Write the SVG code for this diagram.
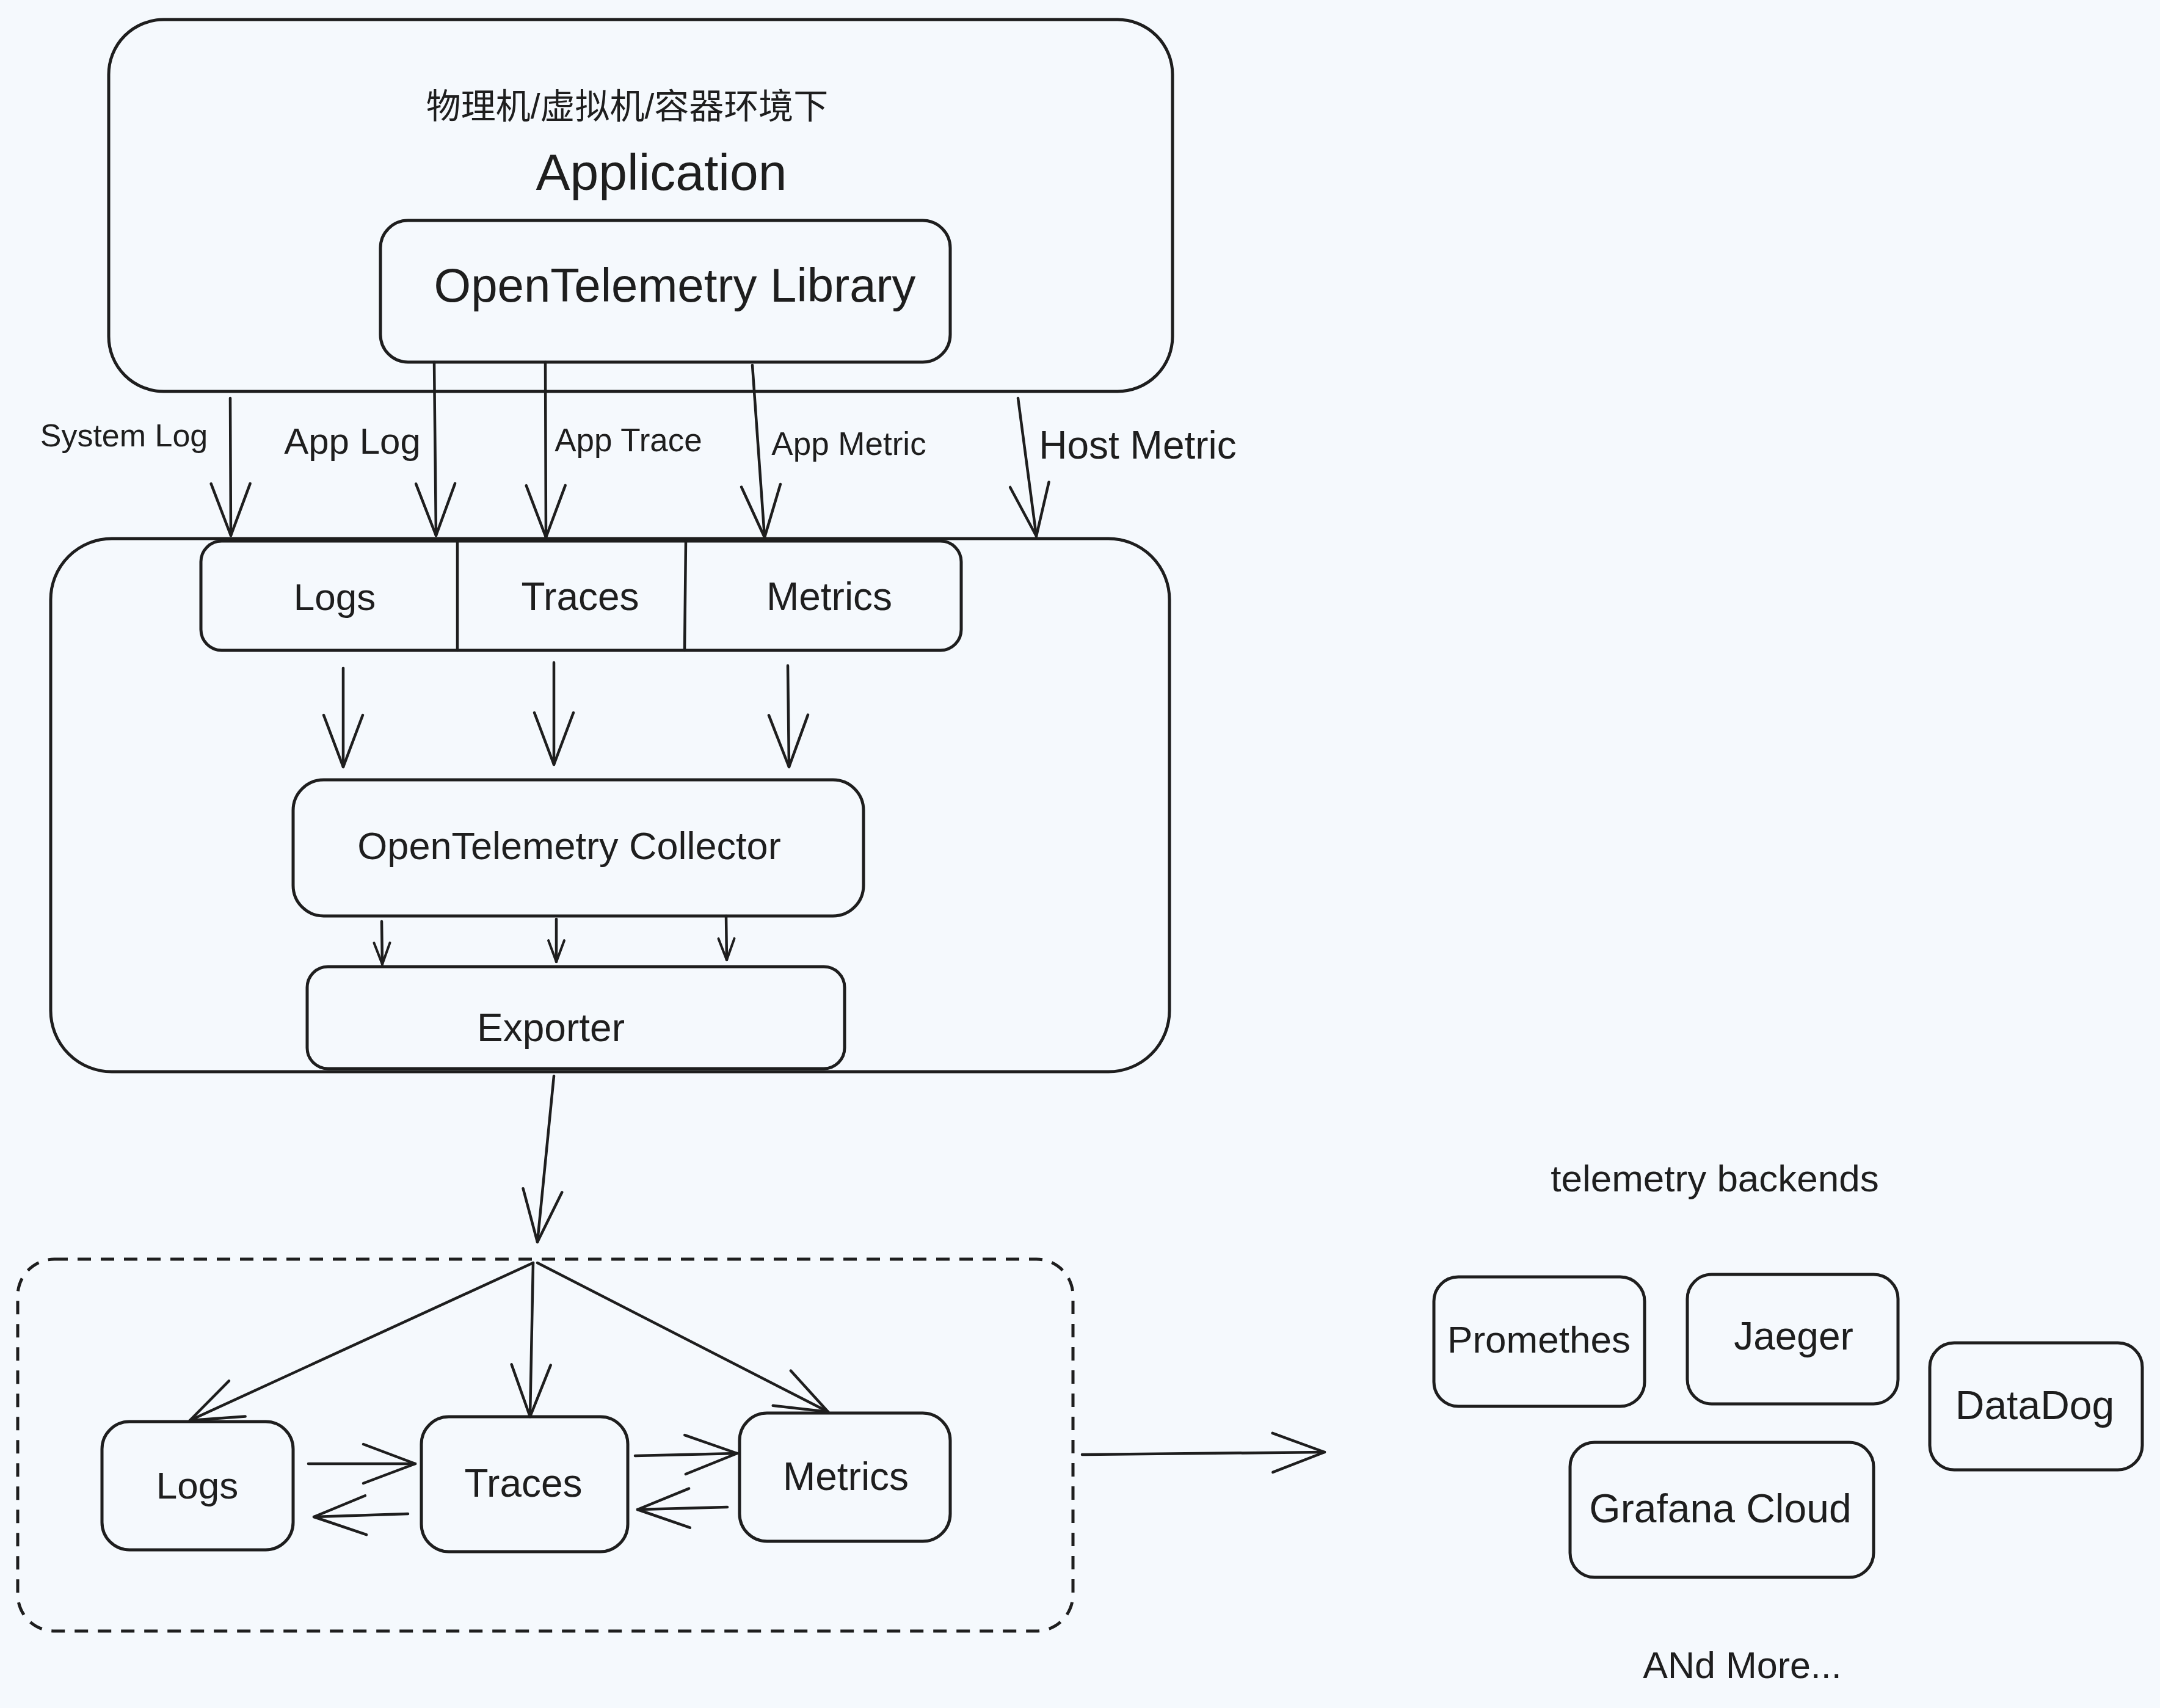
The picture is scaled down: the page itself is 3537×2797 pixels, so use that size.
<svg xmlns="http://www.w3.org/2000/svg" width="3537" height="2797" viewBox="0 0 3537 2797">
<defs>
<style>
.box{fill:none;stroke:#1e1e1e;stroke-width:5;}
.dash{fill:none;stroke:#1e1e1e;stroke-width:5;stroke-dasharray:22 16;}
.ln{fill:none;stroke:#1e1e1e;stroke-width:4.5;stroke-linecap:round;}
.t{font-family:"Liberation Sans","Noto Sans CJK SC",sans-serif;fill:#1e1e1e;text-anchor:middle;dominant-baseline:central;}
</style>
<marker id="ah" markerUnits="userSpaceOnUse" markerWidth="90" markerHeight="70" refX="85" refY="32" orient="auto" overflow="visible">
<path d="M0,0 L85,32 L0,64" fill="none" stroke="#1e1e1e" stroke-width="4.5" stroke-linecap="round" stroke-linejoin="round"/>
</marker>
<marker id="as" markerUnits="userSpaceOnUse" markerWidth="40" markerHeight="30" refX="35" refY="13" orient="auto" overflow="visible">
<path d="M0,0 L35,13 L0,26" fill="none" stroke="#1e1e1e" stroke-width="4" stroke-linecap="round" stroke-linejoin="round"/>
</marker>
</defs>
<rect x="0" y="0" width="3537" height="2797" fill="#f5f9fd"/>

<g id="application">
<rect class="box" x="178" y="32" width="1742" height="609" rx="90"/>
<text class="t" x="1027" y="174" font-size="57">物理机/虚拟机/容器环境下</text>
<text class="t" x="1083" y="282" font-size="84">Application</text>
</g>
<g id="otel-library">
<rect class="box" x="623" y="361" width="933" height="232" rx="45"/>
<text class="t" x="1105" y="467" font-size="78">OpenTelemetry Library</text>
</g>

<g id="agent">
<rect class="box" x="83" y="882" width="1832" height="873" rx="100"/>
</g>
<g id="signals-bar">
<rect class="box" x="329" y="886" width="1245" height="179" rx="34"/>
<path class="ln" d="M749,886 L749,1065 M1123,886 L1121,1065"/>
<text class="t" x="548" y="977" font-size="62">Logs</text>
<text class="t" x="950" y="977" font-size="64">Traces</text>
<text class="t" x="1358" y="977" font-size="64">Metrics</text>
</g>
<g id="collector">
<rect class="box" x="480" y="1277" width="934" height="223" rx="50"/>
<text class="t" x="932" y="1385" font-size="63">OpenTelemetry Collector</text>
</g>
<g id="exporter">
<rect class="box" x="503" y="1583" width="880" height="167" rx="34"/>
<text class="t" x="902" y="1683" font-size="64">Exporter</text>
</g>

<g id="pipeline">
<rect class="dash" x="29" y="2062" width="1728" height="609" rx="60"/>
</g>
<g id="logs">
<rect class="box" x="167" y="2328" width="313" height="210" rx="45"/>
<text class="t" x="323" y="2432" font-size="62">Logs</text>
</g>
<g id="traces">
<rect class="box" x="690" y="2320" width="338" height="221" rx="45"/>
<text class="t" x="857" y="2429" font-size="64">Traces</text>
</g>
<g id="metrics">
<rect class="box" x="1211" y="2314" width="345" height="210" rx="45"/>
<text class="t" x="1385" y="2418" font-size="64">Metrics</text>
</g>

<g id="backends">
<text class="t" x="2808" y="1929" font-size="62">telemetry backends</text>
</g>
<g id="prometheus">
<rect class="box" x="2348" y="2091" width="345" height="212" rx="40"/>
<text class="t" x="2520" y="2193" font-size="62">Promethes</text>
</g>
<g id="jaeger">
<rect class="box" x="2763" y="2087" width="345" height="212" rx="40"/>
<text class="t" x="2937" y="2188" font-size="64">Jaeger</text>
</g>
<g id="datadog">
<rect class="box" x="3160" y="2199" width="348" height="208" rx="40"/>
<text class="t" x="3332" y="2301" font-size="66">DataDog</text>
</g>
<g id="grafana">
<rect class="box" x="2571" y="2362" width="497" height="221" rx="40"/>
<text class="t" x="2817" y="2470" font-size="66">Grafana Cloud</text>
</g>
<g id="more">
<text class="t" x="2853" y="2727" font-size="61">ANd More...</text>
</g>

<g id="connectors">
<path class="ln" marker-end="url(#ah)" d="M377,652 L378,877"/>
<path class="ln" marker-end="url(#ah)" d="M711,593 L714,877"/>
<path class="ln" marker-end="url(#ah)" d="M893,593 L894,880"/>
<path class="ln" marker-end="url(#ah)" d="M1232,598 L1252,880"/>
<path class="ln" marker-end="url(#ah)" d="M1667,652 L1697,878"/>
<text class="t" x="203" y="713" font-size="52">System Log</text>
<text class="t" x="577" y="722" font-size="60">App Log</text>
<text class="t" x="1029" y="720" font-size="53">App Trace</text>
<text class="t" x="1390" y="726" font-size="53">App Metric</text>
<text class="t" x="1863" y="729" font-size="64">Host Metric</text>

<path class="ln" marker-end="url(#ah)" d="M562,1094 L562,1256"/>
<path class="ln" marker-end="url(#ah)" d="M907,1085 L907,1252"/>
<path class="ln" marker-end="url(#ah)" d="M1290,1090 L1292,1256"/>

<path class="ln" marker-end="url(#as)" d="M625,1509 L626,1579"/>
<path class="ln" marker-end="url(#as)" d="M911,1505 L911,1575"/>
<path class="ln" marker-end="url(#as)" d="M1189,1500 L1190,1572"/>

<path class="ln" marker-end="url(#ah)" d="M907,1762 L880,2034"/>

<path class="ln" marker-end="url(#ah)" d="M873,2068 L311,2326"/>
<path class="ln" marker-end="url(#ah)" d="M873,2068 L868,2320"/>
<path class="ln" marker-end="url(#ah)" d="M880,2068 L1356,2312"/>

<path class="ln" marker-end="url(#ah)" d="M505,2397 L680,2397"/>
<path class="ln" marker-end="url(#ah)" d="M668,2479 L514,2484"/>
<path class="ln" marker-end="url(#ah)" d="M1040,2384 L1207,2380"/>
<path class="ln" marker-end="url(#ah)" d="M1191,2468 L1044,2472"/>

<path class="ln" marker-end="url(#ah)" d="M1772,2382 L2169,2378"/>
</g>
</svg>
